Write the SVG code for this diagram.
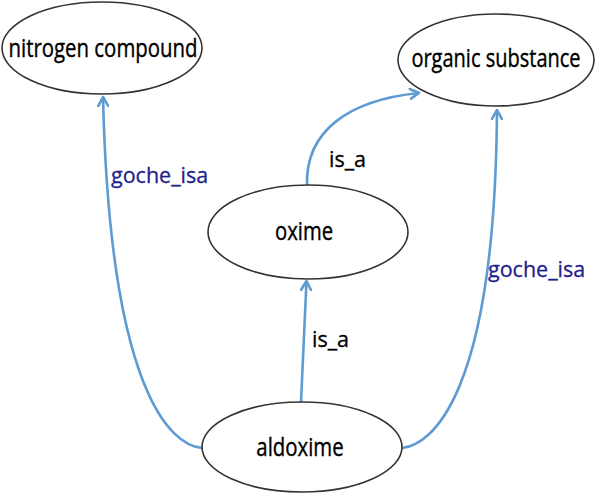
<svg xmlns="http://www.w3.org/2000/svg" width="600" height="501" viewBox="0 0 600 501">
<defs>
<marker id="arr" viewBox="0 0 12 12" refX="10" refY="6" markerWidth="12" markerHeight="12" markerUnits="userSpaceOnUse" orient="auto">
<path d="M1,1 L10,6 L1,11" fill="none" stroke="#5f9bd3" stroke-width="2.6" stroke-linecap="round" stroke-linejoin="round"/>
</marker>
<style>
.node ellipse{fill:#fff;stroke:#333;stroke-width:1.6}
.node text{font-family:"Open Sans","Liberation Sans",sans-serif;font-size:26px;fill:#000;stroke:#000;stroke-width:0.4;text-anchor:middle}
.edge path{fill:none;stroke:#5f9bd3;stroke-width:2.6;marker-end:url(#arr)}
.lbl{font-family:"Open Sans","Liberation Sans",sans-serif;font-size:21.5px;stroke-width:0.3}
.g{fill:#1f1f8c;stroke:#1f1f8c}
.k{fill:#000;stroke:#000}
</style>
</defs>
<rect width="600" height="501" fill="#fff"/>
<g id="connectors" class="edge">
<path d="M202,448 C170,445 110,390 103,97"/>
<path d="M301,402 L306.5,281"/>
<path d="M307,186 C305,130 350,100 419,93"/>
<path d="M402,448 C430,445 495,400 497,110"/>
</g>
<g id="n-nitrogen" class="node"><ellipse cx="102" cy="48" rx="100" ry="46"/><text transform="translate(103,57) scale(0.785,1)">nitrogen compound</text></g>
<g id="n-organic" class="node"><ellipse cx="496" cy="60" rx="98" ry="46"/><text transform="translate(496,67) scale(0.77,1)">organic substance</text></g>
<g id="n-oxime" class="node"><ellipse cx="308" cy="232" rx="100" ry="47"/><text transform="translate(304,240) scale(0.78,1)">oxime</text></g>
<g id="n-aldoxime" class="node"><ellipse cx="302" cy="447" rx="100" ry="45"/><text transform="translate(300,456) scale(0.785,1)">aldoxime</text></g>
<g id="labels">
<text class="lbl g" x="111" y="183">goche_isa</text>
<text class="lbl g" x="488" y="277">goche_isa</text>
<text class="lbl k" x="329" y="167">is_a</text>
<text class="lbl k" x="312" y="347">is_a</text>
</g>
</svg>
